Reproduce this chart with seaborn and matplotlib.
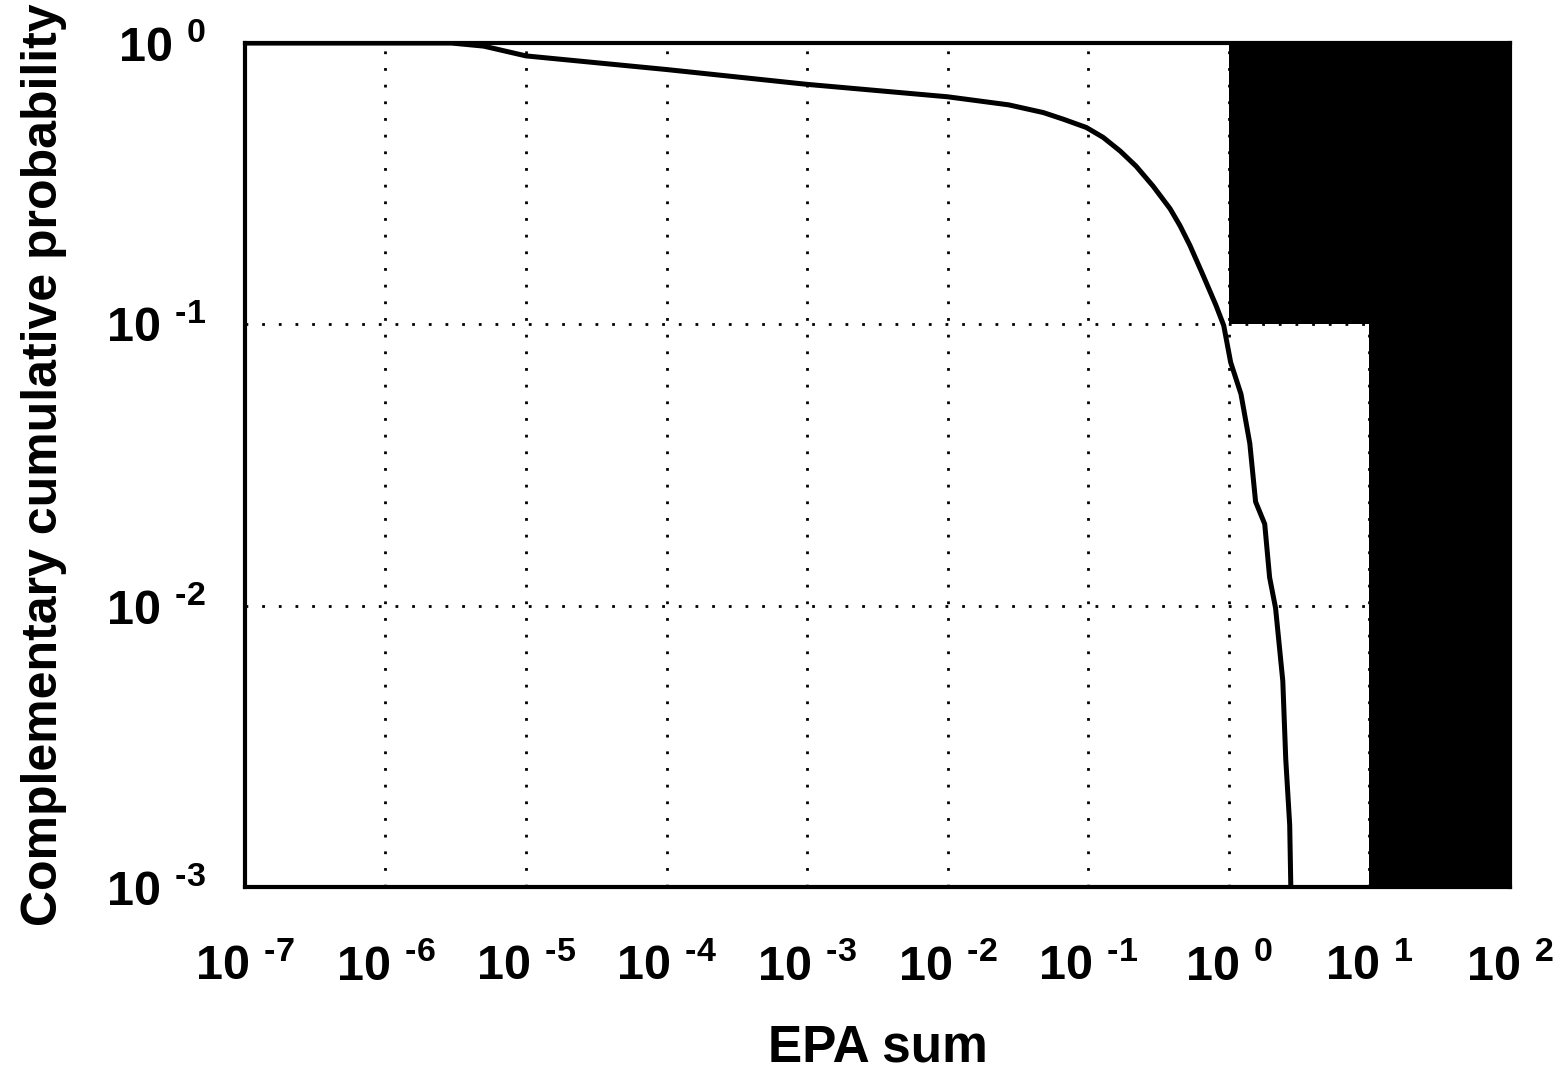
import matplotlib
matplotlib.use('Agg')
import matplotlib.pyplot as plt
import matplotlib.ticker as mticker
import seaborn as sns

# CCDF curve
epa_sum = [1e-7, 2.95e-6, 5.0e-6, 1e-5, 1e-4, 1e-3, 1e-2, 0.0271, 0.0479, 0.0665,
           0.0968, 0.1276, 0.1687, 0.2188, 0.289, 0.382, 0.449, 0.528, 0.655, 0.809,
           0.92, 1.03, 1.22, 1.41, 1.55, 1.80, 1.95, 2.15, 2.42, 2.54, 2.71, 2.76]
ccdf = [1.0, 1.0, 0.975, 0.90, 0.805, 0.713, 0.644, 0.603, 0.566, 0.536,
        0.501, 0.462, 0.413, 0.365, 0.310, 0.2576, 0.2244, 0.191, 0.1496, 0.117,
        0.099, 0.0733, 0.0565, 0.0377, 0.0234, 0.0195, 0.0126, 0.0098, 0.0054, 0.00285, 0.00166, 0.001]

# black (excluded) region: step outline
region_x = [1, 10, 100]
region_low = [0.1, 1e-3, 1e-3]
region_high = 1.0

x_exps = [-7, -6, -5, -4, -3, -2, -1, 0, 1, 2]
y_exps = [-3, -2, -1, 0]

sns.set_theme(style="white")
plt.rcParams['font.family'] = ['Liberation Sans', 'DejaVu Sans']
plt.rcParams['font.weight'] = 'bold'
plt.rcParams['text.color'] = 'black'
plt.rcParams['axes.labelcolor'] = 'black'
plt.rcParams['mathtext.fontset'] = 'custom'
plt.rcParams['mathtext.rm'] = 'Liberation Sans:bold'
plt.rcParams['mathtext.bf'] = 'Liberation Sans:bold'
plt.rcParams['mathtext.it'] = 'Liberation Sans:bold'


def pow_label(e):
    # short hyphen instead of the long math minus, as in the scan
    if e < 0:
        return r'$\mathbf{10}\ ^{\text{-}%d}$' % (-e)
    return r'$\mathbf{10}\ ^{%d}$' % e


fig = plt.figure(figsize=(15.67, 10.76), dpi=100)
ax = fig.add_axes([0.1563, 0.1757, 0.9636 - 0.1563, 0.96 - 0.1757])

ax.fill_between(region_x, region_low, region_high, step='post', color='black', lw=0, zorder=2)
sns.lineplot(x=epa_sum, y=ccdf, color='black', lw=3.6, ax=ax, zorder=3)

ax.set_xscale('log')
ax.set_yscale('log')
ax.set_xlim(1e-7, 1e2)
ax.set_ylim(1e-3, 1)

ax.set_xticks([10.0 ** e for e in x_exps])
ax.set_xticklabels([pow_label(e) for e in x_exps])
ax.set_yticks([10.0 ** e for e in y_exps])
ax.set_yticklabels([pow_label(e) for e in y_exps])
ax.xaxis.set_minor_locator(mticker.NullLocator())
ax.yaxis.set_minor_locator(mticker.NullLocator())
ax.tick_params(axis='both', length=0, labelsize=35, colors='black')
ax.tick_params(axis='x', pad=67)
ax.tick_params(axis='y', pad=28)
for lbl in ax.get_xticklabels():
    lbl.set_va('baseline')

ax.set_axisbelow(True)
ax.grid(True, which='major', color='black', linestyle=(0, (1, 5)), linewidth=2)

for s in ax.spines.values():
    s.set_visible(True)
    s.set_color('black')
    s.set_linewidth(3)
    s.set_zorder(5)

ax.set_xlabel('EPA sum', fontsize=37, fontweight='bold', va='baseline')
ax.xaxis.set_label_coords(0.5, -0.2073)
ax.set_ylabel('Complementary cumulative probability', fontsize=36, fontweight='bold', labelpad=28)

fig.savefig('out.png', dpi=100, facecolor='white')
